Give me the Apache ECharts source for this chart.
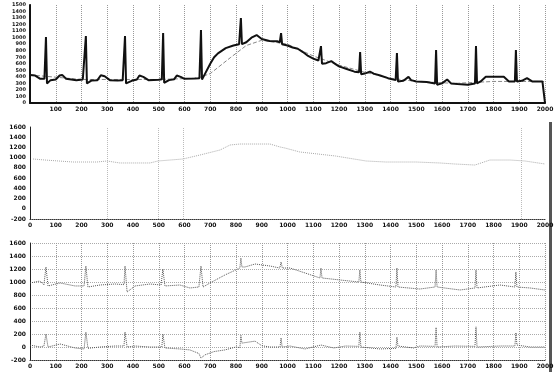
<!DOCTYPE html>
<html>
<head>
<meta charset="utf-8">
<script src="https://cdn.jsdelivr.net/npm/echarts@6/dist/echarts.min.js"></script>
<style>
  html, body { margin: 0; padding: 0; background: #fff; }
  #chart { width: 559px; height: 372px; }
</style>
</head>
<body>
<div id="chart"></div>
<script>
// Top panel: raw trace and smoothed trend (x, value)
var ecgTrace = [
  [0,430],[20,420],[40,370],[56,372],[62,1010],[66,300],[80,350],[100,360],[115,420],[125,430],[140,370],[180,350],
  [205,360],[212,375],[217,1025],[221,300],[240,345],[262,350],[275,425],[290,410],[310,350],[340,345],[360,350],
  [365,370],[369,1025],[373,300],[395,340],[415,360],[425,420],[440,400],[460,350],[500,355],[512,365],[517,1070],
  [521,310],[540,350],[560,365],[570,420],[585,400],[600,370],[640,375],[658,380],[664,1117],[668,360],[680,450],
  [700,600],[715,700],[730,760],[760,840],[790,880],[812,900],[819,1300],[823,900],[840,930],[860,1000],[880,1040],
  [900,980],[930,950],[960,945],[970,930],[975,1070],[979,900],[1000,880],[1020,850],[1040,830],[1060,780],[1080,720],
  [1100,680],[1120,650],[1126,640],[1130,870],[1134,600],[1150,610],[1170,640],[1185,600],[1200,560],[1230,520],
  [1260,480],[1278,470],[1282,780],[1286,440],[1300,450],[1320,480],[1335,450],[1360,420],[1390,380],[1420,350],
  [1425,765],[1429,330],[1450,340],[1470,400],[1480,350],[1500,330],[1540,320],[1573,300],[1577,810],[1581,280],
  [1600,300],[1620,360],[1635,300],[1660,290],[1700,280],[1728,300],[1732,872],[1736,300],[1750,330],[1770,400],
  [1800,400],[1840,400],[1860,330],[1883,330],[1887,810],[1891,330],[1910,340],[1930,380],[1950,330],[1990,330],[2000,0]
];
var ecgTrend = [
  [0,430],[200,360],[500,360],[650,380],[700,450],[780,700],[840,880],[900,960],[1000,900],[1100,720],
  [1200,580],[1300,470],[1400,380],[1500,330],[1650,300],[1800,330],[2000,330]
];

// Middle panel
var midTrace = [
  [12,974],[58,954],[167,915],[260,915],[299,935],[349,896],[466,896],[497,935],[594,974],[660,1052],
  [738,1150],[777,1248],[815,1267],[932,1267],[971,1209],[990,1189],[1048,1111],[1186,1033],[1305,935],
  [1382,915],[1499,915],[1592,896],[1650,876],[1728,856],[1786,954],[1864,954],[1922,935],[2000,876]
];
var midMarkers = [299, 497, 594, 1907];

// Bottom panel: two traces
var lowUpper = [
  [0,985],[39,1015],[54,954],[62,1231],[70,939],[117,985],[175,939],[210,939],[217,1246],[225,923],[272,954],
  [330,969],[365,960],[369,1246],[377,846],[408,939],[466,969],[509,954],[516,1200],[524,939],[582,954],[621,908],
  [656,923],[664,1246],[672,923],[699,985],[757,1108],[815,1215],[819,1369],[823,1231],[835,1231],[874,1277],
  [932,1246],[970,1215],[975,1308],[980,1215],[1010,1215],[1068,1139],[1126,1062],[1130,1215],[1134,1062],
  [1204,1031],[1277,1000],[1281,1185],[1285,1000],[1359,954],[1421,923],[1425,1215],[1429,923],[1514,892],
  [1573,923],[1577,1185],[1581,923],[1670,877],[1728,908],[1732,1185],[1736,908],[1825,954],[1883,923],
  [1887,1154],[1891,923],[1942,908],[2000,877]
];
var lowLower = [
  [0,30],[39,0],[54,15],[62,200],[70,0],[117,46],[175,-15],[210,-30],[217,230],[225,-20],[272,0],[330,15],
  [365,15],[369,230],[377,0],[408,15],[466,0],[512,0],[516,200],[524,-15],[582,-30],[621,-45],[656,-100],
  [664,-170],[680,-120],[715,-70],[757,-45],[800,0],[815,-10],[819,180],[823,60],[874,90],[900,20],[932,0],
  [971,0],[975,140],[979,0],[1010,15],[1068,-30],[1130,30],[1180,-15],[1225,15],[1277,10],[1281,230],[1285,0],
  [1359,-30],[1421,-20],[1425,150],[1429,15],[1490,-15],[1514,15],[1573,10],[1577,300],[1581,0],[1650,15],
  [1728,10],[1732,310],[1736,0],[1825,15],[1883,15],[1887,220],[1891,30],[1942,0],[2000,0]
];

var labelStyle = { fontSize: 6, fontWeight: 'bold', color: '#111', fontFamily: 'DejaVu Sans',
  formatter: function (v) { return String(v); } };

function xAx(idx, showMin) {
  return {
    type: 'value', gridIndex: idx, min: 0, max: 2000, interval: 100,
    axisLine: { onZero: false, lineStyle: { color: '#333', type: 'dotted' } },
    axisTick: { show: false },
    axisLabel: Object.assign({ margin: 3, showMinLabel: showMin }, labelStyle),
    splitLine: { show: idx !== 1, interval: 1, lineStyle: { color: '#999', type: 'dotted' } }
  };
}
function yAx(idx, min, max, step, split) {
  return {
    type: 'value', gridIndex: idx, min: min, max: max, interval: step,
    axisLine: { show: true, onZero: false, lineStyle: { color: '#222' } },
    axisTick: { show: false },
    axisLabel: Object.assign({ margin: 4 }, labelStyle, { fontSize: idx === 0 ? 5 : 6 }),
    splitLine: { show: split, lineStyle: { color: '#aaa', type: 'dotted' } }
  };
}

var chart = echarts.init(document.getElementById('chart'), null, { renderer: 'canvas' });
chart.setOption({
  animation: false,
  backgroundColor: '#fff',
  grid: [
    { left: 30, right: 14, top: 5, height: 98 },
    { left: 30, right: 14, top: 127, height: 92 },
    { left: 30, right: 14, top: 243, height: 117 }
  ],
  xAxis: [
    xAx(0, false), xAx(1, true), xAx(2, true),
    { type: 'value', gridIndex: 0, position: 'top', min: 0, max: 2000,
      axisLine: { lineStyle: { color: '#111', width: 2 } }, axisTick: { show: false },
      axisLabel: { show: false }, splitLine: { show: false } }
  ],
  yAxis: [
    yAx(0, 0, 1500, 100, false), yAx(1, -200, 1600, 200, false), yAx(2, -200, 1600, 200, true),
    { type: 'value', gridIndex: 0, position: 'right', min: 0, max: 1500,
      axisLine: { show: true, lineStyle: { color: '#111', width: 2 } }, axisTick: { show: false },
      axisLabel: { show: false }, splitLine: { show: false } }
  ],
  series: [
    { type: 'line', xAxisIndex: 0, yAxisIndex: 0, data: ecgTrend, symbol: 'none',
      lineStyle: { color: '#888', width: 1, type: 'dashed' } },
    { type: 'line', xAxisIndex: 0, yAxisIndex: 0, data: ecgTrace, symbol: 'none',
      lineStyle: { color: '#111', width: 2 } },
    { type: 'line', xAxisIndex: 1, yAxisIndex: 1, data: midTrace, symbol: 'none',
      lineStyle: { color: '#aaa', width: 1, type: 'dotted' },
      markLine: { symbol: 'none', silent: true, label: { show: false },
        lineStyle: { color: '#bbb', type: 'dotted', width: 1 },
        data: midMarkers.map(function (v) { return { xAxis: v }; }) } },
    { type: 'line', xAxisIndex: 2, yAxisIndex: 2, data: lowUpper, symbol: 'none',
      lineStyle: { color: '#555', width: 1, type: 'dotted' } },
    { type: 'line', xAxisIndex: 2, yAxisIndex: 2, data: lowLower, symbol: 'none',
      lineStyle: { color: '#555', width: 1, type: 'dotted' } }
  ],
  graphic: [
    { type: 'rect', shape: { x: 549, y: 122, width: 3, height: 250 }, style: { fill: '#555' } }
  ]
});
</script>
</body>
</html>
